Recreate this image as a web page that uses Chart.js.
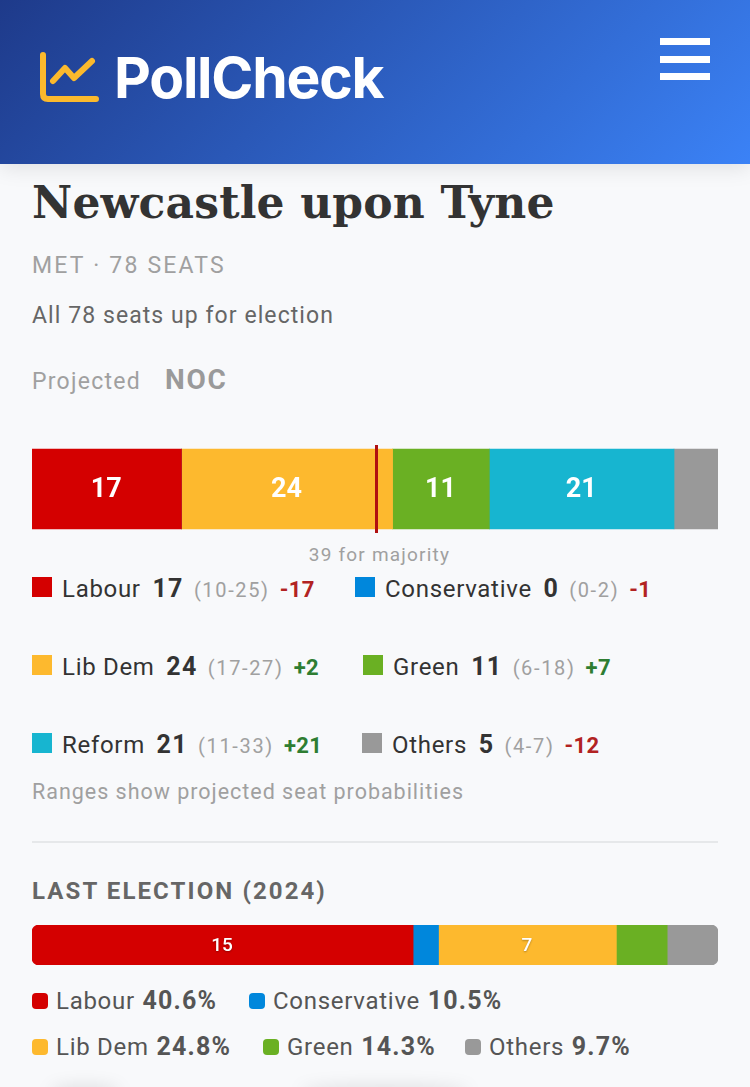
<!DOCTYPE html>
<html>
<head>
<meta charset="utf-8">
<title>PollCheck</title>
<script src="https://cdn.jsdelivr.net/npm/chart.js@4"></script>
<style>
html, body { margin: 0; padding: 0; }
body { width: 750px; height: 1087px; overflow: hidden; position: relative; background: #f8f9fb; font-family: Roboto, sans-serif; color: #333; }
.abs { position: absolute; white-space: nowrap; }
header { position: absolute; left: 0; top: 0; width: 750px; height: 164px; background: linear-gradient(135deg, #1e3a8a, #3b82f6); box-shadow: 0 4px 20px rgba(0,0,0,.1); }
.brand { left: 114px; top: 44px; font: 700 57px/68px Inter, sans-serif; letter-spacing: -1.25px; color: #fff; }
.burger { position: absolute; left: 660px; width: 50px; height: 7px; background: #fff; }
h1 { margin: 0; left: 32px; top: 174px; font: 700 44px/58px "DejaVu Serif", serif; color: #333; letter-spacing: .17px; }
.meta { left: 32px; top: 252px; font-size: 23px; line-height: 28px; color: #a0a0a0; letter-spacing: 2.2px; }
.sub { left: 32px; top: 302px; font-size: 23px; line-height: 28px; color: #666; letter-spacing: 1.07px; }
.proj { left: 32px; top: 368px; font-size: 23px; line-height: 28px; color: #a0a0a0; letter-spacing: 1.25px; }
.noc { left: 165px; top: 364px; font-size: 28px; line-height: 32px; font-weight: 700; color: #9a9a9a; letter-spacing: 1.7px; }
canvas { position: absolute; }
.maj { left: 0; width: 759px; top: 543px; text-align: center; font-size: 19px; line-height: 23px; color: #a0a0a0; letter-spacing: 1.2px; }
.sw { position: absolute; width: 20px; height: 20px; }
.item { position: absolute; white-space: nowrap; font-size: 24px; line-height: 28px; color: #333; letter-spacing: .7px; }
.item b { font-weight: 700; font-size: 25px; margin: 0 10px 0 5px; letter-spacing: 1.4px; }
.item i { font-style: normal; font-size: 20px; color: #a0a0a0; margin-right: 10px; letter-spacing: 1.65px; }
.item em { font-style: normal; font-weight: 700; font-size: 22px; letter-spacing: .3px; }
.note { left: 32px; top: 779px; font-size: 21.5px; line-height: 26px; color: #a0a0a0; letter-spacing: .98px; }
.rule { position: absolute; left: 32px; width: 686px; top: 841px; height: 2px; background: #e6e8ea; }
.last { left: 32px; top: 877px; font-size: 24px; line-height: 28px; font-weight: 700; color: #666; letter-spacing: 2.1px; }
.dot { position: absolute; width: 16px; height: 16px; border-radius: 4px; }
.vote { position: absolute; white-space: nowrap; font-size: 24px; line-height: 28px; color: #555; letter-spacing: .72px; }
.vote b { font-weight: 700; font-size: 25px; margin-left: 1px; letter-spacing: 1.2px; }
.smudge { position: absolute; top: 1085px; height: 14px; border-radius: 50%; background: rgba(0,0,0,.1); filter: blur(8px); }
</style>
</head>
<body>
<header>
  <svg class="abs" style="left:39px;top:50px" width="62" height="54" viewBox="0 0 62 54" fill="none" stroke="#fbb92d" stroke-width="6" stroke-linecap="round" stroke-linejoin="round">
    <path d="M4 5V44Q4 49 9 49H57"/>
    <path d="M14 31L26 18L35 28L53 11"/>
  </svg>
  <div class="abs brand">PollCheck</div>
  <div class="burger" style="top:38px"></div>
  <div class="burger" style="top:56px"></div>
  <div class="burger" style="top:73px"></div>
</header>
<h1 class="abs">Newcastle upon Tyne</h1>
<div class="abs meta">MET · 78 SEATS</div>
<div class="abs sub">All 78 seats up for election</div>
<div class="abs proj">Projected</div>
<div class="abs noc">NOC</div>
<canvas id="seats" width="694" height="100" style="left:32px;top:439px"></canvas>
<div class="abs maj">39 for majority</div>
<div id="seatLegend"></div>
<div class="abs note">Ranges show projected seat probabilities</div>
<div class="rule"></div>
<div class="abs last">LAST ELECTION (2024)</div>
<canvas id="lastSeats" width="686" height="40" style="left:32px;top:925px"></canvas>
<div id="voteLegend"></div>
<div class="smudge" style="left:50px;width:70px"></div>
<div class="smudge" style="left:300px;width:170px"></div>
<script>
const parties = ['Labour', 'Conservative', 'Lib Dem', 'Green', 'Reform', 'Others'];
const colours = ['#d40000', '#0087dc', '#fdb92e', '#6ab023', '#17b5d0', '#999999'];

const seats = [17, 0, 24, 11, 21, 5];
const seatLow = [10, 0, 17, 6, 11, 4];
const seatHigh = [25, 2, 27, 18, 33, 7];
const seatChange = [-17, -1, 2, 7, 21, -12];
const totalSeats = 78;
const majority = 39;

const lastParties = ['Labour', 'Conservative', 'Lib Dem', 'Green', 'Others'];
const lastColours = ['#d40000', '#0087dc', '#fdb92e', '#6ab023', '#999999'];
const lastSeats = [15, 1, 7, 2, 2];
const lastShare = [40.6, 10.5, 24.8, 14.3, 9.7];

// in-bar numbers, only on segments wide enough to hold them
const barLabels = {
    id: 'barLabels',
    afterDatasetsDraw(chart, args, opts) {
        const ctx = chart.ctx;
        ctx.save();
        ctx.fillStyle = '#fff';
        ctx.font = opts.font;
        ctx.textAlign = 'center';
        ctx.textBaseline = 'middle';
        ctx.shadowColor = opts.shadow;
        ctx.shadowBlur = 2;
        ctx.shadowOffsetY = 1;
        chart.data.datasets.forEach((ds, i) => {
            const v = ds.data[0];
            if (v < opts.minValue) return;
            const bar = chart.getDatasetMeta(i).data[0];
            ctx.fillText(String(v), (bar.x + bar.base) / 2 - 0.5, bar.y + 1);
        });
        ctx.restore();
    }
};

const majorityLine = {
    id: 'majorityLine',
    afterDatasetsDraw(chart) {
        const x = chart.scales.x.getPixelForValue(majority);
        chart.ctx.fillStyle = '#b01010';
        chart.ctx.fillRect(x, 6, 3, 88);
    }
};

function stackedBar(el, names, cols, values, total, thickness, radius, extra, plugins, labelOpts) {
    const last = values.length - 1;
    return new Chart(el.getContext('2d'), {
        type: 'bar',
        data: {
            labels: ['seats'],
            datasets: values.map((v, i) => ({
                label: names[i],
                data: [v],
                backgroundColor: cols[i],
                barThickness: thickness,
                borderSkipped: false,
                borderRadius: {
                    topLeft: i === 0 ? radius : 0,
                    bottomLeft: i === 0 ? radius : 0,
                    topRight: i === last ? radius : 0,
                    bottomRight: i === last ? radius : 0
                }
            }))
        },
        options: {
            indexAxis: 'y',
            responsive: false,
            animation: false,
            layout: { padding: { right: extra } },
            scales: {
                x: { stacked: true, display: false, min: 0, max: total },
                y: { stacked: true, display: false }
            },
            plugins: {
                legend: { display: false },
                tooltip: { enabled: false },
                barLabels: labelOpts
            }
        },
        plugins: plugins
    });
}

stackedBar(document.getElementById('seats'), parties, colours, seats, totalSeats, 80, 0, 8,
    [barLabels, majorityLine], { font: '700 27px Roboto', minValue: 6, shadow: 'rgba(0,0,0,0)' });
stackedBar(document.getElementById('lastSeats'), lastParties, lastColours, lastSeats, 27, 40, 7, 0,
    [barLabels], { font: '500 19px Roboto', minValue: 6, shadow: 'rgba(0,0,0,.3)' });

// seat legend, three rows of two
const seatRows = [[32, 355], [32, 363], [32, 362]];
const seatRowTop = [577, 655, 733];
const seatHolder = document.getElementById('seatLegend');
parties.forEach((p, i) => {
    const row = Math.floor(i / 2);
    const left = seatRows[row][i % 2];
    const top = seatRowTop[row];
    const sign = seatChange[i] > 0 ? '+' : '';
    const col = seatChange[i] > 0 ? '#2e7d32' : '#b22222';
    seatHolder.insertAdjacentHTML('beforeend',
        `<div class="sw" style="left:${left}px;top:${top}px;background:${colours[i]}"></div>` +
        `<div class="item" style="left:${left + 30}px;top:${top - 2}px">${p} <b>${seats[i]}</b>` +
        `<i>(${seatLow[i]}-${seatHigh[i]})</i><em style="color:${col}">${sign}${seatChange[i]}</em></div>`);
});

// vote share legend
const voteLeft = [32, 249, 32, 263, 465];
const voteTop = [993, 993, 1039, 1039, 1039];
const voteHolder = document.getElementById('voteLegend');
lastParties.forEach((p, i) => {
    voteHolder.insertAdjacentHTML('beforeend',
        `<div class="dot" style="left:${voteLeft[i]}px;top:${voteTop[i]}px;background:${lastColours[i]}"></div>` +
        `<div class="vote" style="left:${voteLeft[i] + 24}px;top:${voteTop[i] - 6}px">${p} <b>${lastShare[i]}%</b></div>`);
});
</script>
</body>
</html>
